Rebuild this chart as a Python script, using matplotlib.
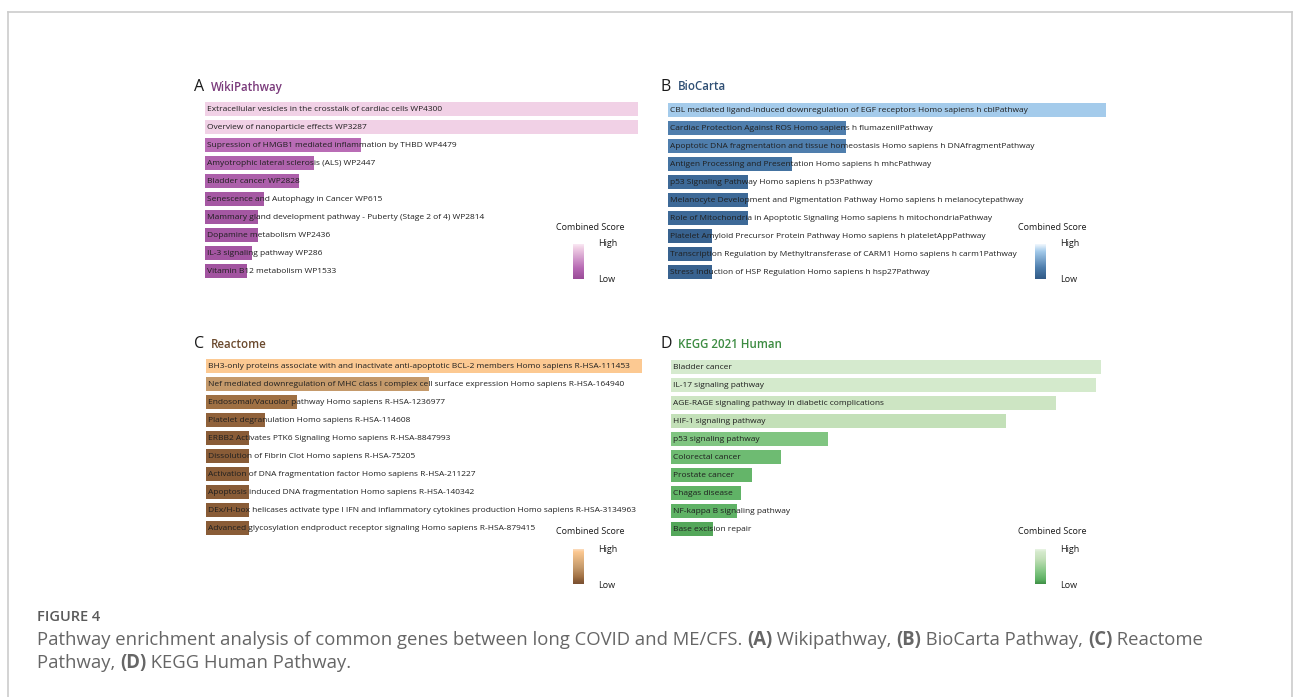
import numpy as np
import matplotlib
matplotlib.use("Agg")
import matplotlib.pyplot as plt
from matplotlib.colors import LinearSegmentedColormap, Normalize
from matplotlib.transforms import blended_transform_factory
from matplotlib.lines import Line2D

plt.rcParams["font.family"] = ["Open Sans", "DejaVu Sans"]

W, H = 1293, 697

# ---- data (combined score) ----
wiki_terms = [
    "Extracellular vesicles in the crosstalk of cardiac cells WP4300",
    "Overview of nanoparticle effects WP3287",
    "Supression of HMGB1 mediated inflammation by THBD WP4479",
    "Amyotrophic lateral sclerosis (ALS) WP2447",
    "Bladder cancer WP2828",
    "Senescence and Autophagy in Cancer WP615",
    "Mammary gland development pathway - Puberty (Stage 2 of 4) WP2814",
    "Dopamine metabolism WP2436",
    "IL-3 signaling pathway WP286",
    "Vitamin B12 metabolism WP1533",
]
wiki_scores = [433, 433, 156, 109, 94, 59, 53, 53, 47, 42]

biocarta_terms = [
    "CBL mediated ligand-induced downregulation of EGF receptors Homo sapiens h cblPathway",
    "Cardiac Protection Against ROS Homo sapiens h flumazenilPathway",
    "Apoptotic DNA fragmentation and tissue homeostasis Homo sapiens h DNAfragmentPathway",
    "Antigen Processing and Presentation Homo sapiens h mhcPathway",
    "p53 Signaling Pathway Homo sapiens h p53Pathway",
    "Melanocyte Development and Pigmentation Pathway Homo sapiens h melanocytepathway",
    "Role of Mitochondria in Apoptotic Signaling Homo sapiens h mitochondriaPathway",
    "Platelet Amyloid Precursor Protein Pathway Homo sapiens h plateletAppPathway",
    "Transcription Regulation by Methyltransferase of CARM1 Homo sapiens h carm1Pathway",
    "Stress Induction of HSP Regulation Homo sapiens h hsp27Pathway",
]
biocarta_scores = [438, 178, 178, 124, 80, 80, 80, 44, 44, 44]

reactome_terms = [
    "BH3-only proteins associate with and inactivate anti-apoptotic BCL-2 members Homo sapiens R-HSA-111453",
    "Nef mediated downregulation of MHC class I complex cell surface expression Homo sapiens R-HSA-164940",
    "Endosomal/Vacuolar pathway Homo sapiens R-HSA-1236977",
    "Platelet degranulation Homo sapiens R-HSA-114608",
    "ERBB2 Activates PTK6 Signaling Homo sapiens R-HSA-8847993",
    "Dissolution of Fibrin Clot Homo sapiens R-HSA-75205",
    "Activation of DNA fragmentation factor Homo sapiens R-HSA-211227",
    "Apoptosis induced DNA fragmentation Homo sapiens R-HSA-140342",
    "DEx/H-box helicases activate type I IFN and inflammatory cytokines production Homo sapiens R-HSA-3134963",
    "Advanced glycosylation endproduct receptor signaling Homo sapiens R-HSA-879415",
]
reactome_scores = [436, 223, 91, 59, 43, 43, 43, 43, 43, 43]

kegg_terms = [
    "Bladder cancer",
    "IL-17 signaling pathway",
    "AGE-RAGE signaling pathway in diabetic complications",
    "HIF-1 signaling pathway",
    "p53 signaling pathway",
    "Colorectal cancer",
    "Prostate cancer",
    "Chagas disease",
    "NF-kappa B signaling pathway",
    "Base excision repair",
]
kegg_scores = [430, 425, 385, 335, 157, 110, 81, 70, 66, 42]

panel_letters = ["A", "B", "C", "D"]
panel_titles = ["WikiPathway", "BioCarta", "Reactome", "KEGG 2021 Human"]

# ---- styling / layout (pixels in the 1293x697 canvas) ----
panels = [
    dict(terms=wiki_terms, scores=wiki_scores, x0=205, x1=638, top=100, tx=195, ty=87,
         title_c="#7a3a7b", vtop=0.9,
         stops=[(0, "#9a4c98"), (0.32, "#b86bb5"), (0.9, "#f1d1e6"), (1, "#f9e8f4")],
         cb=(573, 244)),
    dict(terms=biocarta_terms, scores=biocarta_scores, x0=668, x1=1106, top=101, tx=662, ty=87,
         title_c="#2f4f74", vtop=0.8,
         stops=[(0, "#325a86"), (0.15, "#3d6a98"), (0.33, "#4f7fae"), (0.8, "#a4cbeb"), (1, "#f0f7fd")],
         cb=(1035, 244)),
    dict(terms=reactome_terms, scores=reactome_scores, x0=206, x1=642, top=357, tx=195, ty=344,
         title_c="#6b4a2e", vtop=0.9,
         stops=[(0, "#7a5032"), (0.1, "#8b5e38"), (0.2, "#a27245"), (0.46, "#c59a6b"),
                (0.9, "#fcc891"), (1, "#fbe3cc")],
         cb=(573, 549)),
    dict(terms=kegg_terms, scores=kegg_scores, x0=671, x1=1101, top=358, tx=662, ty=344,
         title_c="#3d8c42", vtop=0.9,
         stops=[(0, "#3f8f47"), (0.12, "#5cb062"), (0.33, "#80c581"), (0.7, "#c3e0b8"),
                (0.9, "#d5eacd"), (1, "#eef7eb")],
         cb=(1035, 549)),
]

ROW = 18.0
fig = plt.figure(figsize=(W / 100, H / 100), dpi=100)


def fx(x):
    return x / W


def fy(y):
    return 1 - y / H


for letter, title, p in zip(panel_letters, panel_titles, panels):
    n = len(p["terms"])
    cmap = LinearSegmentedColormap.from_list(title, p["stops"])
    vmax = max(p["scores"]) / p["vtop"]
    norm = Normalize(0, vmax)
    ax = fig.add_axes([fx(p["x0"]), fy(p["top"] + n * ROW), (p["x1"] - p["x0"]) / W, n * ROW / H])
    y = np.arange(n)
    ax.barh(y, p["scores"], height=0.78, color=cmap(norm(np.array(p["scores"]))), edgecolor="none")
    ax.set_xlim(0, max(p["scores"]))
    ax.set_ylim(n - 0.5, -0.5)
    ax.axis("off")
    tr = blended_transform_factory(ax.transAxes, ax.transData)
    for i, t in enumerate(p["terms"]):
        ax.text(2.0 / (p["x1"] - p["x0"]), i + 0.03, t, transform=tr, ha="left", va="center",
                fontsize=6.0, color="#1f1f1f")

    fig.text(fx(p["tx"] - 1), fy(p["ty"]), letter, fontsize=11.5, color="#1a1a1a", ha="left", va="center")
    fig.text(fx(p["tx"] + 16), fy(p["ty"]), title, fontsize=8.3, color=p["title_c"],
             ha="left", va="center", fontweight="semibold")

    # colour legend
    cx, cy = p["cb"]
    cax = fig.add_axes([fx(cx), fy(cy + 35), 11 / W, 35 / H])
    cax.imshow(np.linspace(1, 0, 100)[:, None], aspect="auto", cmap=cmap)
    cax.axis("off")
    fig.text(fx(cx + 17), fy(cy - 17), "Combined Score", fontsize=6.5, color="#1a1a1a",
             ha="center", va="center")
    fig.text(fx(cx + 25), fy(cy), "High", fontsize=6.5, color="#1a1a1a", ha="left", va="center")
    fig.text(fx(cx + 25), fy(cy + 36), "Low", fontsize=6.5, color="#1a1a1a", ha="left", va="center")

# frame around the figure block
frame_c = "#cccccc"
fig.add_artist(Line2D([fx(7.5), fx(7.5)], [0, fy(12)], color=frame_c, lw=1.2))
fig.add_artist(Line2D([fx(7.5), fx(1291.5)], [fy(12), fy(12)], color=frame_c, lw=1.2))
fig.add_artist(Line2D([fx(1291.5), fx(1291.5)], [fy(12), 0], color=frame_c, lw=1.2))

# caption
fig.text(fx(37), fy(617), "FIGURE 4", fontsize=10.5, color="#5a5a5a", fontweight="semibold",
         ha="left", va="center")

renderer = fig.canvas.get_renderer()
cap_lines = [
    [("Pathway enrichment analysis of common genes between long COVID and ME/CFS. ", "normal"),
     ("(A)", "bold"), (" Wikipathway, ", "normal"), ("(B)", "bold"), (" BioCarta Pathway, ", "normal"),
     ("(C)", "bold"), (" Reactome", "normal")],
    [("Pathway, ", "normal"), ("(D)", "bold"), (" KEGG Human Pathway.", "normal")],
]
for yy, segs in zip([640, 663], cap_lines):
    x = 37
    for s, wgt in segs:
        t = fig.text(fx(x), fy(yy), s, fontsize=13.35, color="#666666", fontweight=wgt,
                     ha="left", va="center")
        x = t.get_window_extent(renderer).x1

fig.savefig("out.png", dpi=100)
